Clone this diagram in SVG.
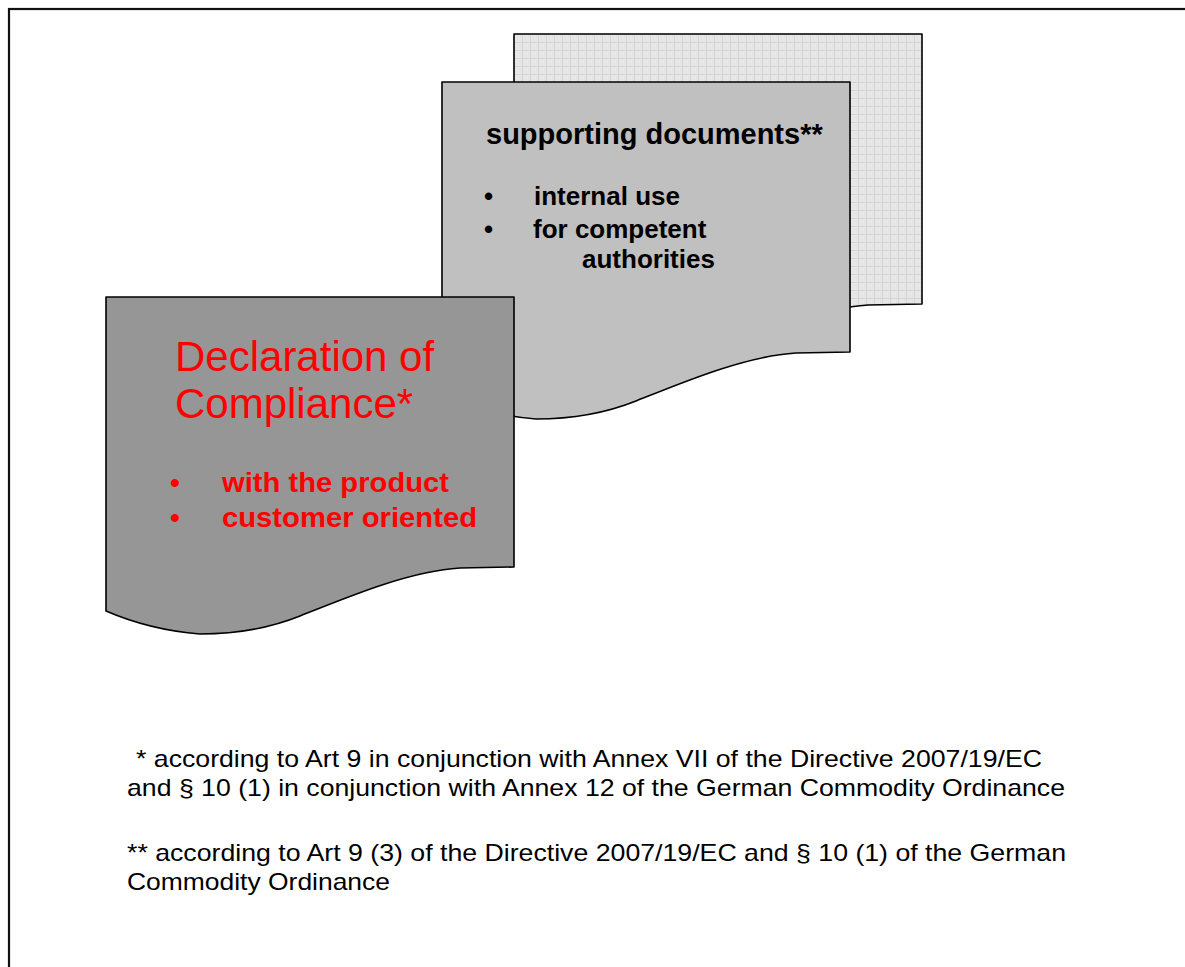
<svg xmlns="http://www.w3.org/2000/svg" width="1185" height="967" viewBox="0 0 1185 967">
<style>
.doc{stroke:#000;stroke-width:1.6;stroke-linejoin:round}
.bk{fill:url(#grid)}
.md{fill:#c0c0c0}
.fr{fill:#969696}
.t{font-family:"Liberation Sans",Arial,sans-serif}
.b{font-weight:bold}
.red{fill:#ff0000}
.blk{fill:#000}
.fn{font-size:24px;fill:#000}
</style>
<defs>
<pattern id="grid" width="8" height="8" patternUnits="userSpaceOnUse">
<rect width="8" height="8" fill="#e8e8e8"/>
<path d="M0,0.5H8M0.5,0V8" stroke="#d2d2d2" stroke-width="1"/>
<path d="M3,3h1M6,3h1M3,6h1M6,6h1" stroke="#dadada" stroke-width="1"/>
</pattern>
<path id="docShape" d="M0,0 H408 V270 L354,271 C304,274 244,299 194,319 C164,331 129,337 94,337 Q44,333 0,314 Z"/>
</defs>
<rect x="9" y="9" width="1200" height="1000" fill="#fff" stroke="#111" stroke-width="2.2"/>
<g id="node-back">
<use href="#docShape" x="514" y="34" class="doc bk"/>
</g>
<g id="node-supporting">
<use href="#docShape" x="442" y="82" class="doc md"/>
<text class="t b blk" x="486" y="144" font-size="29">supporting documents**</text>
<text class="t b blk" x="484" y="205" font-size="26">•</text>
<text class="t b blk" x="534" y="205" font-size="26">internal use</text>
<text class="t b blk" x="484" y="238" font-size="26">•</text>
<text class="t b blk" x="533" y="238" font-size="26">for competent</text>
<text class="t b blk" x="582" y="268" font-size="26">authorities</text>
</g>
<g id="node-declaration">
<use href="#docShape" x="106" y="297" class="doc fr"/>
<text class="t red" x="175" y="371" font-size="42">Declaration of</text>
<text class="t red" x="175" y="418" font-size="42">Compliance*</text>
<text class="t b red" x="170" y="492" font-size="28">•</text>
<text class="t b red" x="222" y="492" font-size="28" textLength="227" lengthAdjust="spacingAndGlyphs">with the product</text>
<text class="t b red" x="170" y="527" font-size="28">•</text>
<text class="t b red" x="222" y="527" font-size="28" textLength="255" lengthAdjust="spacingAndGlyphs">customer oriented</text>
</g>
<g id="connectors"></g>
<g id="footnotes">
<text class="t fn" x="136" y="767" textLength="906" lengthAdjust="spacingAndGlyphs">* according to Art 9 in conjunction with Annex VII of the Directive 2007/19/EC</text>
<text class="t fn" x="127" y="796" textLength="938" lengthAdjust="spacingAndGlyphs">and § 10 (1) in conjunction with Annex 12 of the German Commodity Ordinance</text>
<text class="t fn" x="127" y="861" textLength="939" lengthAdjust="spacingAndGlyphs">** according to Art 9 (3) of the Directive 2007/19/EC and § 10 (1) of the German</text>
<text class="t fn" x="127" y="890" textLength="263" lengthAdjust="spacingAndGlyphs">Commodity Ordinance</text>
</g>
</svg>
